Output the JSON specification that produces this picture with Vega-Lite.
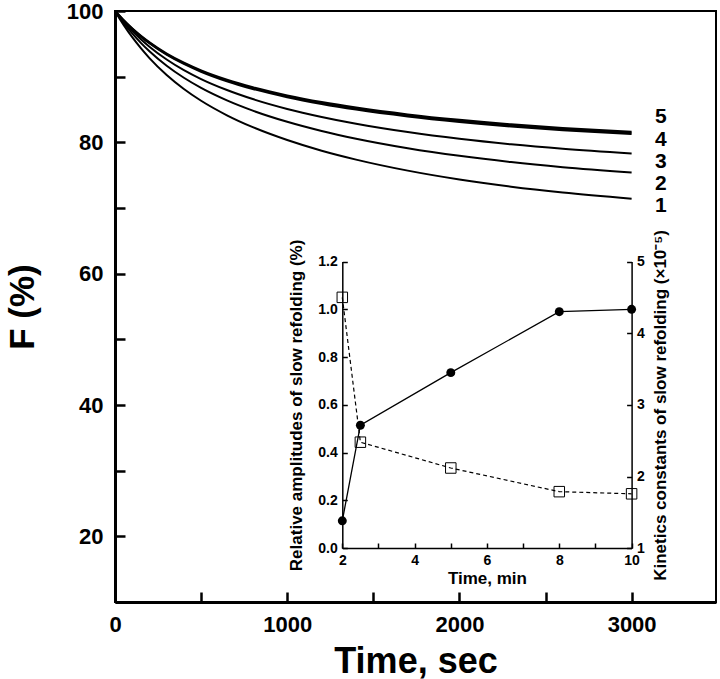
{
  "$schema": "https://vega.github.io/schema/vega-lite/v6.json",
  "width": 601,
  "height": 591,
  "autosize": {"type": "none"},
  "padding": {"left": 115, "top": 11, "right": 4, "bottom": 77},
  "background": "white",
  "config": {
    "view": {"stroke": "black", "strokeWidth": 2},
    "font": "Liberation Sans",
    "axis": {"labelFont": "Liberation Sans", "titleFont": "Liberation Sans", "labelColor": "black", "titleColor": "black", "domainColor": "black", "tickColor": "black", "grid": false, "labelFontWeight": "bold", "titleFontWeight": "bold", "labelOverlap": false, "labelFlush": false}
  },
  "datasets": {
    "curves": [
      {"c": 1, "t": 0, "F": 100}, {"c": 1, "t": 25, "F": 98.91}, {"c": 1, "t": 50, "F": 97.89}, {"c": 1, "t": 100, "F": 96.01}, {"c": 1, "t": 150, "F": 94.34}, {"c": 1, "t": 200, "F": 92.83}, {"c": 1, "t": 300, "F": 90.25}, {"c": 1, "t": 400, "F": 88.12}, {"c": 1, "t": 500, "F": 86.33}, {"c": 1, "t": 650, "F": 84.12}, {"c": 1, "t": 800, "F": 82.31}, {"c": 1, "t": 1000, "F": 80.35}, {"c": 1, "t": 1200, "F": 78.72}, {"c": 1, "t": 1400, "F": 77.37}, {"c": 1, "t": 1700, "F": 75.69}, {"c": 1, "t": 2000, "F": 74.34}, {"c": 1, "t": 2300, "F": 73.24}, {"c": 1, "t": 2600, "F": 72.35}, {"c": 1, "t": 3000, "F": 71.41},
      {"c": 2, "t": 0, "F": 100}, {"c": 2, "t": 25, "F": 99.07}, {"c": 2, "t": 50, "F": 98.2}, {"c": 2, "t": 100, "F": 96.59}, {"c": 2, "t": 150, "F": 95.15}, {"c": 2, "t": 200, "F": 93.87}, {"c": 2, "t": 300, "F": 91.66}, {"c": 2, "t": 400, "F": 89.83}, {"c": 2, "t": 500, "F": 88.29}, {"c": 2, "t": 650, "F": 86.39}, {"c": 2, "t": 800, "F": 84.83}, {"c": 2, "t": 1000, "F": 83.13}, {"c": 2, "t": 1200, "F": 81.73}, {"c": 2, "t": 1400, "F": 80.56}, {"c": 2, "t": 1700, "F": 79.11}, {"c": 2, "t": 2000, "F": 77.94}, {"c": 2, "t": 2300, "F": 76.99}, {"c": 2, "t": 2600, "F": 76.22}, {"c": 2, "t": 3000, "F": 75.4},
      {"c": 3, "t": 0, "F": 100}, {"c": 3, "t": 25, "F": 99.18}, {"c": 3, "t": 50, "F": 98.4}, {"c": 3, "t": 100, "F": 96.98}, {"c": 3, "t": 150, "F": 95.71}, {"c": 3, "t": 200, "F": 94.57}, {"c": 3, "t": 300, "F": 92.62}, {"c": 3, "t": 400, "F": 91.0}, {"c": 3, "t": 500, "F": 89.64}, {"c": 3, "t": 650, "F": 87.97}, {"c": 3, "t": 800, "F": 86.59}, {"c": 3, "t": 1000, "F": 85.09}, {"c": 3, "t": 1200, "F": 83.87}, {"c": 3, "t": 1400, "F": 82.83}, {"c": 3, "t": 1700, "F": 81.56}, {"c": 3, "t": 2000, "F": 80.53}, {"c": 3, "t": 2300, "F": 79.7}, {"c": 3, "t": 2600, "F": 79.02}, {"c": 3, "t": 3000, "F": 78.3},
      {"c": 4, "t": 0, "F": 100}, {"c": 4, "t": 25, "F": 99.25}, {"c": 4, "t": 50, "F": 98.55}, {"c": 4, "t": 100, "F": 97.27}, {"c": 4, "t": 150, "F": 96.13}, {"c": 4, "t": 200, "F": 95.12}, {"c": 4, "t": 300, "F": 93.38}, {"c": 4, "t": 400, "F": 91.97}, {"c": 4, "t": 500, "F": 90.79}, {"c": 4, "t": 650, "F": 89.34}, {"c": 4, "t": 800, "F": 88.17}, {"c": 4, "t": 1000, "F": 86.91}, {"c": 4, "t": 1200, "F": 85.89}, {"c": 4, "t": 1400, "F": 85.03}, {"c": 4, "t": 1700, "F": 83.98}, {"c": 4, "t": 2000, "F": 83.14}, {"c": 4, "t": 2300, "F": 82.45}, {"c": 4, "t": 2600, "F": 81.89}, {"c": 4, "t": 3000, "F": 81.3},
      {"c": 5, "t": 0, "F": 100}, {"c": 5, "t": 25, "F": 99.27}, {"c": 5, "t": 50, "F": 98.57}, {"c": 5, "t": 100, "F": 97.31}, {"c": 5, "t": 150, "F": 96.19}, {"c": 5, "t": 200, "F": 95.19}, {"c": 5, "t": 300, "F": 93.48}, {"c": 5, "t": 400, "F": 92.09}, {"c": 5, "t": 500, "F": 90.92}, {"c": 5, "t": 650, "F": 89.5}, {"c": 5, "t": 800, "F": 88.35}, {"c": 5, "t": 1000, "F": 87.11}, {"c": 5, "t": 1200, "F": 86.1}, {"c": 5, "t": 1400, "F": 85.26}, {"c": 5, "t": 1700, "F": 84.22}, {"c": 5, "t": 2000, "F": 83.39}, {"c": 5, "t": 2300, "F": 82.71}, {"c": 5, "t": 2600, "F": 82.16}, {"c": 5, "t": 3000, "F": 81.58}
    ],
    "curveLabels": [
      {"label": "5", "t": 3170, "F": 83.8},
      {"label": "4", "t": 3170, "F": 80.4},
      {"label": "3", "t": 3170, "F": 77.0},
      {"label": "2", "t": 3170, "F": 73.7},
      {"label": "1", "t": 3170, "F": 70.3}
    ],
    "inset": [
      {"m": 2, "amp": 0.115, "k": 4.5},
      {"m": 2.5, "amp": 0.515, "k": 2.48},
      {"m": 5, "amp": 0.735, "k": 2.12},
      {"m": 8, "amp": 0.99, "k": 1.79},
      {"m": 10, "amp": 1.0, "k": 1.76}
    ]
  },
  "layer": [
    {
      "encoding": {
        "x": {"field": "t", "type": "quantitative",
          "scale": {"domain": [0, 3490], "nice": false, "zero": false},
          "axis": {"orient": "bottom", "values": [0, 500, 1000, 1500, 2000, 2500, 3000], "format": "d",
            "labelExpr": "datum.value % 1000 === 0 ? datum.label : ''",
            "title": "Time, sec", "titleFontSize": 36, "labelFontSize": 22,
            "domainWidth": 3, "tickWidth": 2.5, "tickSize": -10, "labelPadding": 22, "titlePadding": 9}},
        "y": {"field": "F", "type": "quantitative",
          "scale": {"domain": [10, 100], "nice": false, "zero": false},
          "axis": {"orient": "left", "values": [10, 20, 30, 40, 50, 60, 70, 80, 90, 100], "format": "d",
            "labelExpr": "datum.value % 20 === 0 ? datum.label : ''",
            "title": "F (%)", "titleFontSize": 35, "labelFontSize": 22,
            "domainWidth": 3, "tickWidth": 2.5, "tickSize": -10, "labelPadding": 22, "titlePadding": 26}}
      },
      "layer": [
        {
          "data": {"name": "curves"},
          "mark": {"type": "line", "color": "black", "interpolate": "monotone"},
          "encoding": {
            "detail": {"field": "c", "type": "nominal"},
            "strokeWidth": {"condition": {"test": "datum.c >= 4", "value": 2.5}, "value": 2}
          }
        },
        {
          "data": {"name": "curveLabels"},
          "mark": {"type": "text", "font": "Liberation Sans", "fontWeight": "bold", "fontSize": 21, "align": "center", "baseline": "middle", "color": "black"},
          "encoding": {"text": {"field": "label", "type": "nominal"}}
        }
      ]
    },
    {
      "data": {"name": "inset"},
      "encoding": {
        "x": {"field": "m", "type": "quantitative",
          "scale": {"domain": [2, 10], "range": [227.3, 516.6], "nice": false, "zero": false},
          "axis": {"orient": "bottom", "offset": -54, "values": [2, 3, 4, 5, 6, 7, 8, 9, 10], "format": "d",
            "labelExpr": "datum.value % 2 === 0 ? datum.label : ''",
            "title": "Time, min", "titleFontSize": 17, "labelFontSize": 14,
            "domainWidth": 1.5, "tickWidth": 1.5, "tickSize": -5, "labelPadding": 10, "titlePadding": 3}}
      },
      "layer": [
        {
          "encoding": {
            "y": {"field": "amp", "type": "quantitative",
              "scale": {"domain": [0, 1.2], "range": [537.3, 250.5], "nice": false, "zero": false},
              "axis": {"orient": "left", "offset": -227.3, "values": [0, 0.2, 0.4, 0.6, 0.8, 1.0, 1.2], "format": ".1f",
                "title": "Relative amplitudes of slow refolding (%)", "titleFontSize": 17, "labelFontSize": 14,
                "domainWidth": 1.5, "tickWidth": 1.5, "tickSize": -5, "labelPadding": 10, "titlePadding": 12}}
          },
          "layer": [
            {"mark": {"type": "line", "color": "black", "strokeWidth": 1.3}},
            {"mark": {"type": "point", "shape": "circle", "filled": true, "color": "black", "size": 80, "opacity": 1}}
          ]
        },
        {
          "encoding": {
            "y": {"field": "k", "type": "quantitative",
              "scale": {"domain": [1, 5], "range": [537.3, 250.5], "nice": false, "zero": false},
              "axis": {"orient": "right", "offset": -84.4, "values": [1, 1.5, 2, 2.5, 3, 3.5, 4, 4.5, 5], "format": "d",
                "labelExpr": "datum.value % 1 === 0 ? datum.label : ''",
                "title": "Kinetics constants of slow refolding (×10⁻⁵)", "titleAngle": 270, "titleBaseline": "top", "titleFontSize": 17, "labelFontSize": 14,
                "domainWidth": 1.5, "tickWidth": 1.5, "tickSize": -5, "labelPadding": 10, "titlePadding": 8}}
          },
          "layer": [
            {"mark": {"type": "line", "color": "black", "strokeWidth": 1.2, "strokeDash": [4, 3]}},
            {"mark": {"type": "point", "shape": "square", "filled": false, "color": "black", "strokeWidth": 1, "size": 110, "opacity": 1}}
          ]
        }
      ],
      "resolve": {"scale": {"y": "independent"}}
    }
  ],
  "resolve": {"scale": {"x": "independent", "y": "independent"}}
}
